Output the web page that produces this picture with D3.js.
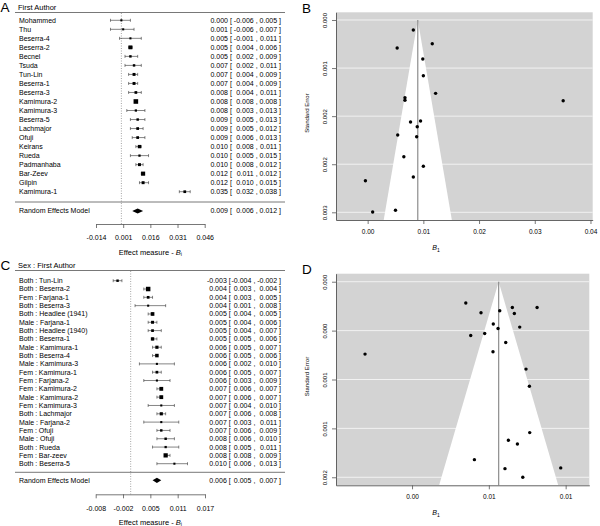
<!DOCTYPE html>
<html>
<head>
<meta charset="utf-8">
<script src="https://cdn.jsdelivr.net/npm/d3@7"></script>
<style>
body { margin: 0; background: #fff; }
svg { font-family: "Liberation Sans", Arial, Helvetica, sans-serif; }
</style>
</head>
<body>
<script>
// ---- panel A : forest by first author ----
var studiesA = ["Mohammed","Thu","Beserra-4","Beserra-2","Becnel","Tsuda","Tun-Lin","Beserra-1","Beserra-3","Kamimura-2",
  "Kamimura-3","Beserra-5","Lachmajor","Ofuji","Keirans","Rueda","Padmanhaba","Bar-Zeev","Gilpin","Kamimura-1"];
var estA  = [0.000,0.001,0.005,0.005,0.005,0.007,0.007,0.007,0.008,0.008,0.008,0.009,0.009,0.009,0.010,0.010,0.010,0.012,0.012,0.035];
var lowA  = [-0.006,-0.006,-0.001,0.004,0.002,0.002,0.004,0.004,0.004,0.008,0.003,0.005,0.005,0.006,0.008,0.005,0.008,0.011,0.010,0.032];
var highA = [0.005,0.007,0.011,0.006,0.009,0.011,0.009,0.009,0.011,0.008,0.013,0.013,0.012,0.013,0.011,0.015,0.012,0.012,0.015,0.038];
var weightA = [1,1,1,9,2,2,4,4,3,15,1.5,2,3,3,6,1.5,4,11,4,3];
var reA = [0.009, 0.006, 0.012];
var ticksA = [-0.014, 0.001, 0.016, 0.031, 0.046];
var tickLabelsA = ["-0.014","0.001","0.016","0.031","0.046"];

// ---- panel C : forest by sex : first author ----
var studiesC = ["Both : Tun-Lin","Both : Beserra-2","Fem : Farjana-1","Both : Beserra-3","Both : Headlee (1941)","Male : Farjana-1",
  "Both : Headlee (1940)","Both : Beserra-1","Male : Kamimura-1","Both : Beserra-4","Male : Kamimura-3","Fem : Kamimura-1",
  "Fem : Farjana-2","Fem : Kamimura-2","Male : Kamimura-2","Fem : Kamimura-3","Both : Lachmajor","Male : Farjana-2",
  "Fem : Ofuji","Male : Ofuji","Both : Rueda","Fem : Bar-zeev","Both : Beserra-5"];
var estC  = [-0.003,0.004,0.004,0.004,0.005,0.005,0.005,0.005,0.006,0.006,0.006,0.006,0.006,0.007,0.007,0.007,0.007,0.007,0.007,0.008,0.008,0.008,0.010];
var lowC  = [-0.004,0.003,0.003,0.001,0.004,0.004,0.004,0.005,0.005,0.005,0.002,0.005,0.003,0.006,0.006,0.004,0.006,0.003,0.006,0.006,0.005,0.008,0.006];
var highC = [-0.002,0.004,0.005,0.008,0.005,0.006,0.007,0.006,0.007,0.006,0.010,0.007,0.009,0.007,0.007,0.010,0.008,0.011,0.009,0.010,0.011,0.009,0.013];
var weightC = [2,14,3,1,8,4,3,6,5,7,1,3,1,9,9,1,5,1,2,2,1.5,12,1];
var reC = [0.006, 0.005, 0.007];
var ticksC = [-0.008, -0.00175, 0.0045, 0.01075, 0.017];
var tickLabelsC = ["-0.008","-0.002","0.005","0.011","0.017"];

// ---- panel B : funnel (first author) ----
var funnelEstB = [0.0082,0.0116,0.0053,0.0099,0.0100,0.0122,0.0067,0.0067,0.0351,0.0077,
  0.0095,0.0089,0.0054,0.0088,0.0065,0.0100,0.0082,-0.0004,0.0050,0.0009];
var funnelSeB = [0.000156,0.000370,0.000437,0.000608,0.000869,0.001144,0.001212,0.001253,0.001259,0.001591,
  0.001576,0.001665,0.001794,0.001821,0.002133,0.002282,0.002449,0.002507,0.002969,0.002995];
var pooledB = 0.009;
var xTicksB = [0, 0.01, 0.02, 0.03, 0.04];
var xTickLabelsB = ["0.00","0.01","0.02","0.03","0.04"];
var seTicksB = [0, 0.00075, 0.0015, 0.00225, 0.003];
var seTickLabelsB = ["0.000","0.001","0.002","0.002","0.003"];

// ---- panel D : funnel (sex : first author) ----
var funnelEstD = [0.00350,0.00653,0.00814,0.00571,0.00449,0.00666,0.00529,0.00560,0.00701,0.00473,0.00382,0.00610,
  0.00527,-0.00306,0.00742,0.00764,0.00766,0.00627,0.00686,0.00406,0.00605,0.00968,0.00721];
var funnelSeD = [0.000207,0.000250,0.000250,0.000282,0.000302,0.000308,0.000411,0.000454,0.000441,0.000503,0.000522,0.000590,
  0.000681,0.000703,0.000849,0.001015,0.001466,0.001540,0.001576,0.001729,0.001816,0.001809,0.001900];
var pooledD = 0.00564;
var xTicksD = [0, 0.005, 0.010];
var xTickLabelsD = ["0.00","0.01","0.01"];
var seTicksD = [0, 0.000475, 0.00095, 0.001425, 0.0019];
var seTickLabelsD = ["0.000","0.000","0.001","0.001","0.002"];

var width = 600, height = 526;
var ink = "#333", axisCol = "#555";

var svg = d3.select("body").append("svg")
  .attr("width", width)
  .attr("height", height);

function fmt(v) {
  return v.toFixed(3);
}

function drawForest(o) {
  var x = d3.scaleLinear().domain(o.xDomain).range(o.xRange);
  var y = d3.scalePoint().domain(d3.range(o.labels.length)).range([o.rowTop, o.rowBottom]);
  var size = d3.scaleSqrt().domain([0, 15]).range([1.2, 4.6]);
  var g = svg.append("g");

  g.append("text").attr("x", 0.5).attr("y", o.top + 12).attr("font-size", 13.5).text(o.letter);
  g.append("text").attr("x", 18).attr("y", o.top + 7).attr("dy", "0.35em")
    .attr("font-size", 7.5).text(o.title);
  g.append("line").attr("x1", 15).attr("x2", 285)
    .attr("y1", o.top + 12.5).attr("y2", o.top + 12.5)
    .attr("stroke", axisCol).attr("stroke-width", 0.8);

  // reference line at zero
  g.append("line").attr("x1", x(0)).attr("x2", x(0))
    .attr("y1", o.top + 13).attr("y2", o.axisY)
    .attr("stroke", "#666").attr("stroke-width", 0.6).attr("stroke-dasharray", "1,1.5");

  var rows = g.selectAll(".row")
    .data(o.labels)
    .enter()
    .append("g")
    .attr("class", "row")
    .attr("transform", function(d, i){ return "translate(0," + y(i) + ")"; });

  rows.append("text").attr("x", 19).attr("dy", "0.35em").attr("font-size", 7)
    .text(function(d){ return d; });

  rows.append("line")
    .attr("x1", function(d, i){ return x(o.low[i]); })
    .attr("x2", function(d, i){ return x(o.high[i]); })
    .attr("stroke", ink).attr("stroke-width", 0.6);
  rows.append("path")
    .attr("d", function(d, i){
      var a = x(o.low[i]), b = x(o.high[i]);
      return "M" + a + ",-1.5V1.5M" + b + ",-1.5V1.5";
    })
    .attr("stroke", ink).attr("stroke-width", 0.6);
  rows.append("rect")
    .attr("x", function(d, i){ return x(o.est[i]) - size(o.weight[i]) / 2; })
    .attr("y", function(d, i){ return -size(o.weight[i]) / 2; })
    .attr("width", function(d, i){ return size(o.weight[i]); })
    .attr("height", function(d, i){ return size(o.weight[i]); })
    .attr("fill", "#000");

  // value columns
  var cols = o.cols;
  rows.each(function(d, i){
    var r = d3.select(this).append("g").attr("font-size", 7);
    addValues(r, [o.est[i], o.low[i], o.high[i]], cols);
  });

  g.append("line").attr("x1", 15).attr("x2", 285)
    .attr("y1", o.sepY).attr("y2", o.sepY)
    .attr("stroke", axisCol).attr("stroke-width", 0.8);

  // random effects summary
  var re = g.append("g").attr("transform", "translate(0," + o.reY + ")");
  re.append("text").attr("x", 19).attr("dy", "0.35em").attr("font-size", 7).text("Random Effects Model");
  re.append("path")
    .attr("d", "M" + x(o.re[1]) + ",0L" + x(o.re[0]) + ",-2.6L" + x(o.re[2]) + ",0L" + x(o.re[0]) + ",2.6Z")
    .attr("fill", "#000");
  addValues(re.append("g").attr("font-size", 7), o.re, cols);

  var ax = g.append("g")
    .attr("transform", "translate(0," + o.axisY + ")")
    .call(d3.axisBottom(x)
      .tickValues(o.ticks)
      .tickFormat(function(d, i){ return o.tickLabels[i]; })
      .tickSize(4)
      .tickSizeOuter(0));
  ax.select(".domain").attr("stroke", axisCol).attr("stroke-width", 0.8);
  ax.selectAll(".tick line").attr("stroke", axisCol).attr("stroke-width", 0.8);
  ax.selectAll("text").attr("font-size", 7).attr("font-family", null)
    .attr("fill", "#000").attr("y", 11.5);

  var t = g.append("text").attr("x", (o.xRange[0] + o.xRange[1]) / 2)
    .attr("y", o.axisY + 30.5).attr("text-anchor", "middle").attr("font-size", 7.5);
  t.append("tspan").text("Effect measure - ");
  t.append("tspan").attr("font-style", "italic").text("B");
  t.append("tspan").attr("font-size", 5).attr("dy", 1.5).text("i");
}

function addValues(r, v, cols) {
  r.append("text").attr("x", cols[0]).attr("text-anchor", "end").attr("dy", "0.35em").text(fmt(v[0]));
  r.append("text").attr("x", cols[1]).attr("dy", "0.35em").text("[");
  r.append("text").attr("x", cols[2]).attr("text-anchor", "end").attr("dy", "0.35em").text(fmt(v[1]));
  r.append("text").attr("x", cols[3]).attr("dy", "0.35em").text(",");
  r.append("text").attr("x", cols[4]).attr("text-anchor", "end").attr("dy", "0.35em").text(fmt(v[2]));
  r.append("text").attr("x", cols[5]).attr("dy", "0.35em").text("]");
}

function drawFunnel(o) {
  var x = d3.scaleLinear().domain(o.xDomain).range([o.left, o.right]);
  var y = d3.scaleLinear().domain(o.yDomain).range([o.top, o.bottom]);
  var g = svg.append("g");

  g.append("text").attr("x", 302).attr("y", o.top + 0.5).attr("font-size", 13.5).text(o.letter);

  g.append("rect").attr("x", o.left).attr("y", o.top)
    .attr("width", o.right - o.left).attr("height", o.bottom - o.top)
    .attr("fill", "#d3d3d3");

  g.selectAll(".grid")
    .data(o.yTicks)
    .enter()
    .append("line")
    .attr("x1", o.left).attr("x2", o.right)
    .attr("y1", function(d){ return y(d); })
    .attr("y2", function(d){ return y(d); })
    .attr("stroke", "#f2f2f2").attr("stroke-width", 1);

  // pseudo confidence region
  var seMax = y.invert(o.bottom);
  var tri = [[x(o.pooled - 1.96 * seMax), o.bottom], [x(o.pooled), y(0)], [x(o.pooled + 1.96 * seMax), o.bottom]];
  g.append("path").attr("d", d3.line()(tri) + "Z").attr("fill", "#fff");

  g.append("line").attr("x1", x(o.pooled)).attr("x2", x(o.pooled))
    .attr("y1", y(0)).attr("y2", o.bottom)
    .attr("stroke", "#8c8c8c").attr("stroke-width", 1.2);

  g.selectAll(".pt")
    .data(o.est)
    .enter()
    .append("circle")
    .attr("cx", function(d){ return x(d); })
    .attr("cy", function(d, i){ return y(o.se[i]); })
    .attr("r", 1.7)
    .attr("fill", "#000");

  var xa = g.append("g")
    .attr("transform", "translate(0," + o.bottom + ")")
    .call(d3.axisBottom(x)
      .tickValues(o.xTicks)
      .tickFormat(function(d, i){ return o.xTickLabels[i]; })
      .tickSize(4)
      .tickSizeOuter(0));
  xa.selectAll("text").attr("font-size", 6.5).attr("fill", "#000").attr("y", 9.5);

  var ya = g.append("g")
    .attr("transform", "translate(" + o.left + ",0)")
    .call(d3.axisLeft(y)
      .tickValues(o.yTicks)
      .tickFormat(function(d, i){ return o.yTickLabels[i]; })
      .tickSize(4)
      .tickSizeOuter(0));
  ya.selectAll("text")
    .attr("font-size", 6)
    .attr("fill", "#000")
    .attr("x", null).attr("dy", null)
    .attr("text-anchor", "middle")
    .attr("transform", "translate(-9,0) rotate(-90)");

  [xa, ya].forEach(function(a){
    a.attr("font-family", null);
    a.select(".domain").attr("stroke", axisCol).attr("stroke-width", 0.9);
    a.selectAll(".tick line").attr("stroke", axisCol).attr("stroke-width", 0.8);
  });

  g.append("text")
    .attr("transform", "translate(308.5," + ((o.top + o.bottom) / 2 - 3) + ") rotate(-90)")
    .attr("text-anchor", "middle").attr("font-size", 6).text("Standard Error");

  var t = g.append("text").attr("x", 436).attr("y", o.bottom + 30)
    .attr("text-anchor", "middle").attr("font-size", 7);
  t.append("tspan").attr("font-style", "italic").text("B");
  t.append("tspan").attr("font-size", 5).attr("dy", 1.5).text("1");
}

drawForest({
  letter: "A", title: "First Author", top: 0,
  labels: studiesA, est: estA, low: lowA, high: highA, weight: weightA, re: reA,
  xDomain: [-0.014, 0.046], xRange: [96, 204.7],
  ticks: ticksA, tickLabels: tickLabelsA,
  rowTop: 20.3, rowBottom: 191.7, sepY: 202, reY: 211, axisY: 224,
  cols: [228, 230, 253.7, 255.7, 277.1, 279]
});

drawForest({
  letter: "C", title: "Sex : First Author", top: 258,
  labels: studiesC, est: estC, low: lowC, high: highC, weight: weightC, re: reC,
  xDomain: [-0.008, 0.017], xRange: [95.7, 205],
  ticks: ticksC, tickLabels: tickLabelsC,
  rowTop: 280.7, rowBottom: 463.7, sepY: 472.3, reY: 480.3, axisY: 494.3,
  cols: [226.8, 228.8, 251.4, 253.4, 277.1, 279]
});

drawFunnel({
  letter: "B", est: funnelEstB, se: funnelSeB, pooled: pooledB,
  xDomain: [-0.00568, 0.0404], yDomain: [-0.00012, 0.00312],
  left: 336, right: 592.7, top: 12.3, bottom: 220,
  xTicks: xTicksB, xTickLabels: xTickLabelsB, yTicks: seTicksB, yTickLabels: seTickLabelsB
});

drawFunnel({
  letter: "D", est: funnelEstD, se: funnelSeD, pooled: pooledD,
  xDomain: [-0.00495, 0.01154], yDomain: [-0.000078, 0.001978],
  left: 336, right: 589.3, top: 273.7, bottom: 485.3,
  xTicks: xTicksD, xTickLabels: xTickLabelsD, yTicks: seTicksD, yTickLabels: seTickLabelsD
});
</script>
</body>
</html>
